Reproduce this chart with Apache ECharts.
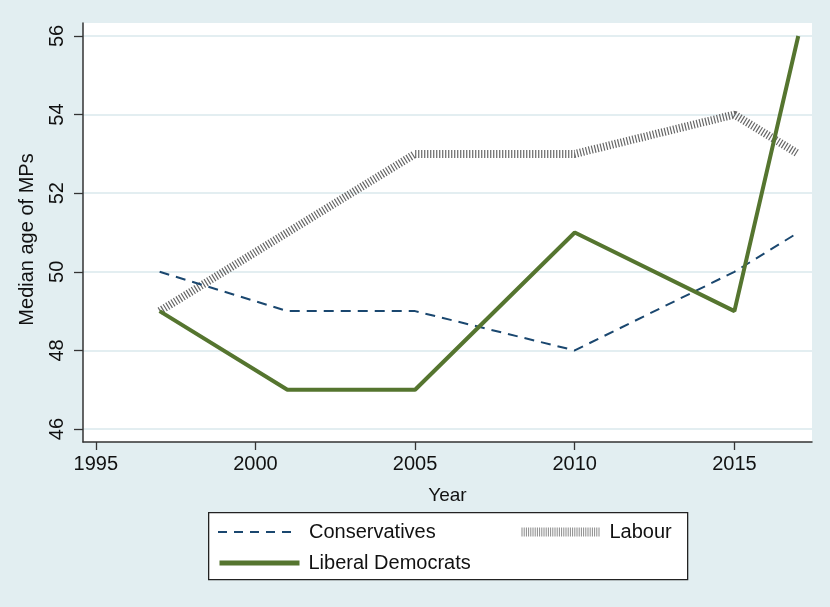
<!DOCTYPE html>
<html><head><meta charset="utf-8">
<script src="https://cdn.jsdelivr.net/npm/echarts@6/dist/echarts.min.js"></script>
<style>html,body{margin:0;padding:0;background:#e2eef1;}#c{width:830px;height:607px;}</style>
</head><body><div id="c"></div>
<script>
const years = [1997, 2001, 2005, 2010, 2015, 2017];
const conservatives = [50, 49, 49, 48, 50, 51];
const labour = [49, 51, 53, 53, 54, 53];
const libDems = [49, 47, 47, 51, 49, 56];
const xTicks = [1995, 2000, 2005, 2010, 2015];
const yTicks = [46, 48, 50, 52, 54, 56];

const pair = arr => years.map((y, i) => [y, arr[i]]);
const font = 'Liberation Sans, Arial, sans-serif';
const chart = echarts.init(document.getElementById('c'));
const legendBase = {
  itemWidth: 80, itemHeight: 14, itemGap: 10,
  textStyle: {fontFamily: font, fontSize: 20, color: '#111', padding: [0, 0, 0, 6]},
  itemStyle: {opacity: 0},
  selectedMode: false, padding: 0
};
chart.setOption({
  backgroundColor: '#e2eef1',
  animation: false,
  grid: {left: 83, right: 18, top: 23, bottom: 165, show: true, backgroundColor: '#ffffff', borderWidth: 0},
  xAxis: {
    type: 'value', min: 1994.6, max: 2017.43,
    name: 'Year', nameLocation: 'middle', nameGap: 44,
    nameTextStyle: {fontFamily: font, fontSize: 19, color: '#111'},
    axisLine: {show: true, onZero: false, lineStyle: {color: '#333', width: 1.5}},
    axisTick: {show: true, length: 8, customValues: xTicks, lineStyle: {color: '#333', width: 1.3}},
    axisLabel: {customValues: xTicks, formatter: v => String(v), fontFamily: font, fontSize: 20, color: '#111', margin: 12},
    splitLine: {show: false}
  },
  yAxis: {
    type: 'value', min: 45.67, max: 56.33,
    name: 'Median age of MPs', nameLocation: 'middle', nameGap: 46,
    nameTextStyle: {fontFamily: font, fontSize: 20, color: '#111', padding: [0, 14, 0, 0]},
    axisLine: {show: true, onZero: false, lineStyle: {color: '#333', width: 1.5}},
    axisTick: {show: true, length: 9, customValues: yTicks, lineStyle: {color: '#333', width: 1.3}},
    axisLabel: {customValues: yTicks, rotate: 90, fontFamily: font, fontSize: 20, color: '#111', margin: 16},
    splitLine: {show: true, lineStyle: {color: '#e3eef1', width: 2}}
  },
  legend: [
    Object.assign({}, legendBase, {data: ['Conservatives'], left: 217, top: 522,
      lineStyle: {color: '#1a476f', width: 2, type: [9, 7]}}),
    Object.assign({}, legendBase, {data: ['Labour'], left: 517, top: 522, itemWidth: 78,
      textStyle: Object.assign({}, legendBase.textStyle, {padding: [0, 0, 0, 5]}),
      lineStyle: {color: '#8a8a8a', width: 9, type: [1, 1.2]}}),
    Object.assign({}, legendBase, {data: ['Liberal Democrats'], left: 217, top: 553,
      textStyle: Object.assign({}, legendBase.textStyle, {padding: [0, 0, 0, 4]}),
      lineStyle: {color: '#55752f', width: 5}})
  ],
  graphic: [{
    type: 'rect', left: 208, top: 512, silent: true,
    shape: {width: 479, height: 67},
    style: {fill: '#ffffff', stroke: '#222', lineWidth: 1.3},
    z: -1
  }],
  series: [
    {name: 'Labour', type: 'line', data: pair(labour), symbol: 'none',
     lineStyle: {color: '#666666', width: 8, type: [1.2, 1.8]}, itemStyle: {color: '#666666'}},
    {name: 'Conservatives', type: 'line', data: pair(conservatives), symbol: 'none',
     lineStyle: {color: '#1a476f', width: 2, type: [10, 7]}, itemStyle: {color: '#1a476f'}},
    {name: 'Liberal Democrats', type: 'line', data: pair(libDems), symbol: 'none',
     lineStyle: {color: '#55752f', width: 4}, itemStyle: {color: '#55752f'}}
  ]
});
</script></body></html>
